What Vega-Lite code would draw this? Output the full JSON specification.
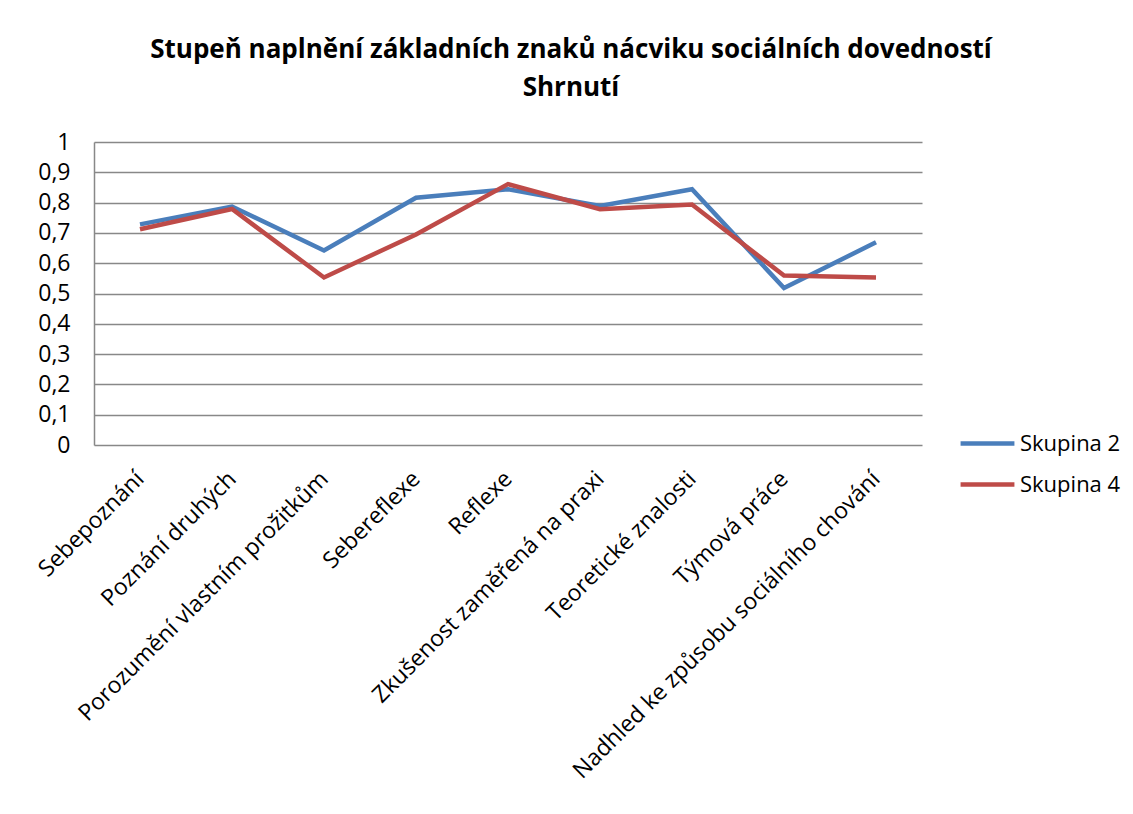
{
  "$schema": "https://vega.github.io/schema/vega-lite/v6.json",
  "width": 828,
  "height": 303,
  "autosize": {"type": "none"},
  "padding": {"left": 94, "top": 142, "right": 211, "bottom": 369},
  "background": "white",
  "title": {
    "text": ["Stupeň naplnění základních znaků nácviku sociálních dovedností", "Shrnutí"],
    "font": "Open Sans",
    "fontSize": 26,
    "fontWeight": "bold",
    "color": "black",
    "lineHeight": 38,
    "anchor": "middle",
    "dx": 63,
    "offset": 30,
    "limit": 1100
  },
  "data": {
    "values": [
      {"znak": "Sebepoznání", "skupina": "Skupina 2", "hodnota": 0.728},
      {"znak": "Poznání druhých", "skupina": "Skupina 2", "hodnota": 0.787},
      {"znak": "Porozumění vlastním prožitkům", "skupina": "Skupina 2", "hodnota": 0.642},
      {"znak": "Sebereflexe", "skupina": "Skupina 2", "hodnota": 0.816},
      {"znak": "Reflexe", "skupina": "Skupina 2", "hodnota": 0.844},
      {"znak": "Zkušenost zaměřená na praxi", "skupina": "Skupina 2", "hodnota": 0.789},
      {"znak": "Teoretické znalosti", "skupina": "Skupina 2", "hodnota": 0.844},
      {"znak": "Týmová práce", "skupina": "Skupina 2", "hodnota": 0.518},
      {"znak": "Nadhled ke způsobu sociálního chování", "skupina": "Skupina 2", "hodnota": 0.669},
      {"znak": "Sebepoznání", "skupina": "Skupina 4", "hodnota": 0.712},
      {"znak": "Poznání druhých", "skupina": "Skupina 4", "hodnota": 0.779},
      {"znak": "Porozumění vlastním prožitkům", "skupina": "Skupina 4", "hodnota": 0.553},
      {"znak": "Sebereflexe", "skupina": "Skupina 4", "hodnota": 0.695},
      {"znak": "Reflexe", "skupina": "Skupina 4", "hodnota": 0.861},
      {"znak": "Zkušenost zaměřená na praxi", "skupina": "Skupina 4", "hodnota": 0.778},
      {"znak": "Teoretické znalosti", "skupina": "Skupina 4", "hodnota": 0.794},
      {"znak": "Týmová práce", "skupina": "Skupina 4", "hodnota": 0.559},
      {"znak": "Nadhled ke způsobu sociálního chování", "skupina": "Skupina 4", "hodnota": 0.553}
    ]
  },
  "mark": {"type": "line", "strokeWidth": 4.5, "strokeJoin": "miter"},
  "encoding": {
    "x": {
      "field": "znak",
      "type": "nominal",
      "sort": null,
      "scale": {"padding": 0.5},
      "axis": {
        "title": null,
        "labelAngle": -45,
        "labelAlign": "right",
        "labelBaseline": "middle",
        "labelPadding": 30,
        "labelFont": "Open Sans",
        "labelFontSize": 23,
        "labelColor": "black",
        "labelLimit": 600,
        "ticks": false,
        "domain": false,
        "grid": false
      }
    },
    "y": {
      "field": "hodnota",
      "type": "quantitative",
      "scale": {"domain": [0, 1], "nice": false},
      "axis": {
        "title": null,
        "values": [0, 0.1, 0.2, 0.3, 0.4, 0.5, 0.6, 0.7, 0.8, 0.9, 1],
        "labelExpr": "replace(format(datum.value, '.1~f'), '.', ',')",
        "labelFont": "Open Sans",
        "labelFontSize": 23,
        "labelColor": "black",
        "labelPadding": 24,
        "ticks": false,
        "domain": true,
        "domainColor": "#888888",
        "domainWidth": 1.5,
        "grid": true,
        "gridColor": "#888888",
        "gridWidth": 1.5
      }
    },
    "color": {
      "field": "skupina",
      "type": "nominal",
      "scale": {"domain": ["Skupina 2", "Skupina 4"], "range": ["#4A7EBB", "#BE4B48"]},
      "legend": {
        "title": null,
        "orient": "none",
        "legendX": 864,
        "legendY": 272,
        "symbolType": "stroke",
        "symbolSize": 2900,
        "symbolStrokeWidth": 4.5,
        "labelFont": "Open Sans",
        "labelFontSize": 22,
        "labelColor": "black",
        "labelOffset": 3,
        "rowPadding": -5
      }
    }
  },
  "config": {"view": {"stroke": null}}
}
